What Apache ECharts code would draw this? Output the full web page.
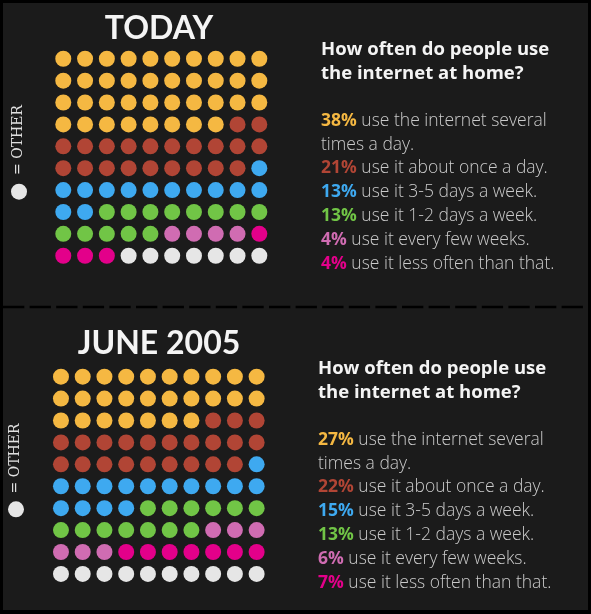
<!DOCTYPE html>
<html>
<head>
<meta charset="utf-8">
<script src="https://cdn.jsdelivr.net/npm/echarts@6/dist/echarts.min.js"></script>
<style>
  html, body { margin: 0; padding: 0; background: #000; }
  #chart { width: 591px; height: 614px; }
</style>
</head>
<body>
<div id="chart"></div>
<script>
// how often people use the internet at home, dots out of 100
var categories = ['several times a day', 'about once a day', '3-5 days a week', '1-2 days a week', 'every few weeks', 'less often', 'other'];
var todayCounts = [38, 21, 13, 13, 4, 4, 7];
var june2005Counts = [27, 22, 15, 13, 6, 7, 10];
var panelTitles = ['TODAY', 'JUNE 2005'];
var question = 'How often do people use\nthe internet at home?';
var descriptions = [
    'use the internet several\ntimes a day.',
    'use it about once a day.',
    'use it 3-5 days a week.',
    'use it 1-2 days a week.',
    'use it every few weeks.',
    'use it less often than that.'
];
var otherLabel = '= OTHER';

var palette = ['#f5b842', '#b14535', '#3ea9f0', '#71c546', '#d06cb2', '#e3008a', '#e6e6e6'];
var titleFont = 'Lato, "Noto Sans", sans-serif';
var textFont = '"Open Sans", "Noto Sans", sans-serif';

// turn counts into cell positions, filled left to right, top to bottom
function cells(counts, k) {
    var start = 0;
    for (var i = 0; i < k; i++) start += counts[i];
    var pts = [];
    for (var j = start; j < start + counts[k]; j++) {
        pts.push([j % 10, Math.floor(j / 10)]);
    }
    return pts;
}

function paragraph(counts) {
    var lines = [];
    for (var k = 0; k < descriptions.length; k++) {
        lines.push('{p' + k + '|' + counts[k] + '%} ' + descriptions[k]);
    }
    return lines.join('\n');
}

var rich = {};
palette.forEach(function(c, k) {
    rich['p' + k] = { fill: c, fontFamily: textFont, fontWeight: 'bold', fontSize: 17.5, lineHeight: 23.8 };
});

var panels = [
    { counts: todayCounts, grid: { left: 52.4, top: 47.8, width: 217.8, height: 218.9 },
      titleY: 28.5, textX: 321, headY: 37.5, bodyY: 109, dot: [19, 191.7], otherY: 140, otherX: 18.3 },
    { counts: june2005Counts, grid: { left: 50.1, top: 365.7, width: 217.4, height: 219.2 },
      titleY: 343.5, textX: 318, headY: 356.5, bodyY: 428, dot: [16, 509.3], otherY: 458.4, otherX: 15.3 }
];

var grids = [], xAxes = [], yAxes = [], series = [];
var graphics = [
    { type: 'rect', z: -10, shape: { x: 3, y: 3, width: 585, height: 607 }, style: { fill: '#1b1b1b' } },
    { type: 'line', z: -5, shape: { x1: 3, y1: 307, x2: 588, y2: 307 },
      style: { stroke: '#000', lineWidth: 2.5, lineDash: [21.3, 5.3] } }
];

panels.forEach(function(p, idx) {
    grids.push(p.grid);
    xAxes.push({ type: 'value', gridIndex: idx, min: -0.5, max: 9.5, show: false });
    yAxes.push({ type: 'value', gridIndex: idx, min: -0.5, max: 9.5, inverse: true, show: false });
    categories.forEach(function(name, k) {
        series.push({
            type: 'scatter',
            name: name,
            xAxisIndex: idx,
            yAxisIndex: idx,
            symbolSize: 16,
            itemStyle: { color: palette[k], opacity: 1 },
            silent: true,
            data: cells(p.counts, k)
        });
    });

    graphics.push({
        type: 'text', x: 159, y: p.titleY,
        style: { text: panelTitles[idx], fill: '#f4f4f4', fontFamily: titleFont, fontWeight: 'bold',
                 fontSize: 32, textAlign: 'center', textVerticalAlign: 'middle' }
    });
    graphics.push({
        type: 'text', x: p.textX, y: p.headY,
        style: { text: question, fill: '#f4f4f4', fontFamily: textFont, fontWeight: 'bold',
                 fontSize: 18.5, lineHeight: 24, textAlign: 'left', textVerticalAlign: 'top' }
    });
    graphics.push({
        type: 'text', x: p.textX, y: p.bodyY,
        style: { text: paragraph(p.counts), rich: rich, fill: '#cacaca', fontFamily: textFont,
                 fontWeight: 300, fontSize: 17.5, lineHeight: 23.8, textAlign: 'left', textVerticalAlign: 'top' }
    });
    graphics.push({
        type: 'circle', shape: { cx: p.dot[0], cy: p.dot[1], r: 8 }, style: { fill: palette[6] }
    });
    graphics.push({
        type: 'text', x: p.otherX, y: p.otherY, rotation: Math.PI / 2,
        style: { text: otherLabel, fill: '#e0e0e0', fontFamily: '"DejaVu Serif", serif',
                 fontSize: 14, textAlign: 'center', textVerticalAlign: 'middle' }
    });
});

var chart = echarts.init(document.getElementById('chart'));
chart.setOption({
    backgroundColor: '#000',
    animation: false,
    grid: grids,
    xAxis: xAxes,
    yAxis: yAxes,
    series: series,
    graphic: graphics
});
</script>
</body>
</html>
